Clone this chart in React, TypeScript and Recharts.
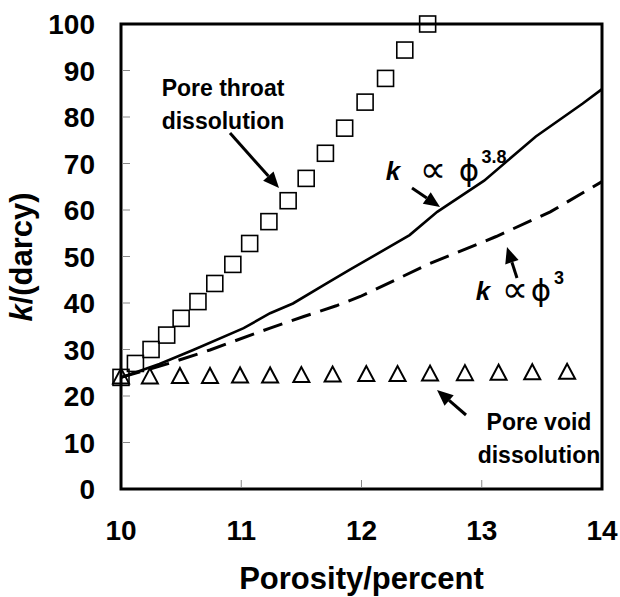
import { ComposedChart, Line, Scatter, XAxis, YAxis } from "recharts";

const W = 620;
const H = 597;
const MARGIN = { top: 24, right: 18, bottom: 0, left: 0 };
const Y_AXIS_W = 121;
const X_AXIS_H = 108;
const PLOT = {
  x: MARGIN.left + Y_AXIS_W,
  y: MARGIN.top,
  w: W - MARGIN.left - Y_AXIS_W - MARGIN.right,
  h: H - MARGIN.top - MARGIN.bottom - X_AXIS_H,
};

const FONT = "'Liberation Sans', Arial, Helvetica, sans-serif";
const SYMBOL_FONT = "'DejaVu Sans', sans-serif";

const xTicks = [10, 11, 12, 13, 14];
const yTicks = [0, 10, 20, 30, 40, 50, 60, 70, 80, 90, 100];

// pore throat dissolution (squares)
const throatPorosity = [10.0, 10.12, 10.25, 10.38, 10.5, 10.64, 10.78, 10.93, 11.07, 11.23, 11.39, 11.54, 11.7, 11.86, 12.03, 12.2, 12.36, 12.55];
const throatK = [24, 27.0, 30.0, 33.1, 36.7, 40.3, 44.2, 48.3, 52.8, 57.5, 62.0, 66.8, 72.2, 77.6, 83.2, 88.3, 94.4, 100];

// pore void dissolution (triangles)
const voidPorosity = [10.0, 10.24, 10.49, 10.74, 10.99, 11.24, 11.5, 11.76, 12.04, 12.3, 12.57, 12.86, 13.14, 13.42, 13.71];
const voidK = [24.0, 24.0, 24.1, 24.1, 24.2, 24.2, 24.3, 24.4, 24.5, 24.5, 24.6, 24.7, 24.8, 24.9, 25.0];

// k ~ phi^3.8 (solid)
const p38Porosity = [10, 10.32, 10.6, 11.02, 11.24, 11.43, 11.71, 11.9, 12.4, 12.63, 13.02, 13.45, 13.84, 14];
const p38K = [24, 26.9, 29.9, 34.6, 37.8, 39.9, 44.2, 47.1, 54.6, 59.6, 66.3, 75.8, 82.9, 86];

// k ~ phi^3 (dashed)
const p3Porosity = [10, 10.41, 10.74, 10.93, 11.24, 11.52, 11.79, 11.99, 12.57, 13.12, 13.57, 14];
const p3K = [24, 27.1, 29.9, 31.7, 34.6, 37.1, 39.4, 41.4, 48.5, 54.3, 59.6, 66.1];

const zip = (xs: number[], ys: number[]) => xs.map((x, i) => ({ x, k: ys[i] }));

const throatData = zip(throatPorosity, throatK);
const voidData = zip(voidPorosity, voidK);
const p38Data = zip(p38Porosity, p38K);
const p3Data = zip(p3Porosity, p3K);

const px = (x: number) => PLOT.x + ((x - 10) / 4) * PLOT.w;
const py = (y: number) => PLOT.y + PLOT.h - (y / 100) * PLOT.h;

function Square(props: any) {
  const { cx, cy } = props;
  return <rect x={cx - 8} y={cy - 8} width={16} height={16} fill="none" stroke="#000" strokeWidth={1.6} />;
}

function Triangle(props: any) {
  const { cx, cy } = props;
  return (
    <polygon
      points={`${cx},${cy - 9} ${cx - 8},${cy + 6} ${cx + 8},${cy + 6}`}
      fill="none"
      stroke="#000"
      strokeWidth={2}
    />
  );
}

function YTick(props: any) {
  const { x, y, payload } = props;
  return (
    <text x={x} y={y} dy="0.36em" textAnchor="end" fontSize={28} fontWeight="bold" fontFamily={FONT} fill="#000">
      {payload.value}
    </text>
  );
}

function XTick(props: any) {
  const { x, y, payload } = props;
  return (
    <text x={x} y={y + 51} textAnchor="middle" fontSize={28} fontWeight="bold" fontFamily={FONT} fill="#000">
      {payload.value}
    </text>
  );
}

function Arrow({ x1, y1, x2, y2 }: { x1: number; y1: number; x2: number; y2: number }) {
  const ang = Math.atan2(y2 - y1, x2 - x1);
  const len = 16;
  const half = 7;
  const bx = x2 - len * Math.cos(ang);
  const by = y2 - len * Math.sin(ang);
  const ox = -Math.sin(ang) * half;
  const oy = Math.cos(ang) * half;
  return (
    <g>
      <line x1={x1} y1={y1} x2={bx} y2={by} stroke="#000" strokeWidth={3} />
      <polygon points={`${x2},${y2} ${bx + ox},${by + oy} ${bx - ox},${by - oy}`} fill="#000" />
    </g>
  );
}

function Overlay() {
  const bold = { fontFamily: FONT, fontWeight: "bold" as const, fill: "#000" };
  return (
    <svg width={W} height={H} style={{ position: "absolute", left: 0, top: 0, pointerEvents: "none" }}>
      {/* frame */}
      <rect x={PLOT.x} y={PLOT.y} width={PLOT.w} height={PLOT.h} fill="none" stroke="#000" strokeWidth={3} />
      {/* inner ticks */}
      {yTicks.slice(1, -1).map((t) => (
        <line key={"y" + t} x1={PLOT.x + 1} x2={PLOT.x + 9} y1={py(t)} y2={py(t)} stroke="#888" strokeWidth={1} />
      ))}
      {xTicks.slice(1, -1).map((t) => (
        <line key={"x" + t} x1={px(t)} x2={px(t)} y1={PLOT.y + PLOT.h - 1} y2={PLOT.y + PLOT.h - 9} stroke="#888" strokeWidth={1} />
      ))}

      {/* axis titles */}
      <text x={PLOT.x + PLOT.w / 2} y={589} textAnchor="middle" fontSize={31} {...bold}>
        Porosity/percent
      </text>
      <text x={32} y={257} transform="rotate(-90, 32, 257)" textAnchor="middle" fontSize={31} {...bold}>
        <tspan fontStyle="italic">k</tspan>/(darcy)
      </text>

      {/* pore throat */}
      <text x={223} y={96} textAnchor="middle" fontSize={23} {...bold}>Pore throat</text>
      <text x={223} y={129} textAnchor="middle" fontSize={23} {...bold}>dissolution</text>
      <Arrow x1={230} y1={133} x2={279} y2={188} />

      {/* k ~ phi^3.8 */}
      <text x={393} y={180} textAnchor="middle" fontSize={26} fontStyle="italic" {...bold}>k</text>
      <text x={433} y={182} textAnchor="middle" fontSize={37} fontFamily={SYMBOL_FONT} fill="#000">∝</text>
      <text x={469} y={181} textAnchor="middle" fontSize={31} fontFamily={SYMBOL_FONT} fill="#000">ϕ</text>
      <text x={494} y={163} textAnchor="middle" fontSize={18} {...bold}>3.8</text>
      <Arrow x1={412} y1={188} x2={440} y2={207} />

      {/* k ~ phi^3 */}
      <text x={483} y={300} textAnchor="middle" fontSize={26} fontStyle="italic" {...bold}>k</text>
      <text x={515} y={302} textAnchor="middle" fontSize={37} fontFamily={SYMBOL_FONT} fill="#000">∝</text>
      <text x={541} y={301} textAnchor="middle" fontSize={31} fontFamily={SYMBOL_FONT} fill="#000">ϕ</text>
      <text x={559} y={284} textAnchor="middle" fontSize={18} {...bold}>3</text>
      <Arrow x1={517} y1={278} x2={507} y2={247} />

      {/* pore void */}
      <text x={539} y={430} textAnchor="middle" fontSize={23} {...bold}>Pore void</text>
      <text x={539} y={463} textAnchor="middle" fontSize={23} {...bold}>dissolution</text>
      <Arrow x1={466} y1={415} x2={437} y2={390} />
    </svg>
  );
}

export default function App() {
  return (
    <div style={{ position: "absolute", left: 0, top: 0, width: W, height: H, background: "#fff" }}>
      <ComposedChart width={W} height={H} margin={MARGIN}>
        <XAxis
          dataKey="x"
          type="number"
          domain={[10, 14]}
          ticks={xTicks}
          height={X_AXIS_H}
          axisLine={false}
          tickLine={false}
          tickSize={0}
          tickMargin={0}
          tick={<XTick />}
        />
        <YAxis
          dataKey="k"
          type="number"
          domain={[0, 100]}
          ticks={yTicks}
          width={Y_AXIS_W}
          axisLine={false}
          tickLine={false}
          tickSize={0}
          tickMargin={26}
          tick={<YTick />}
        />
        <Line data={p3Data} dataKey="k" type="linear" stroke="#000" strokeWidth={3} strokeDasharray="20 10" dot={false} isAnimationActive={false} />
        <Line data={p38Data} dataKey="k" type="linear" stroke="#000" strokeWidth={2.6} dot={false} isAnimationActive={false} />
        <Scatter data={throatData} dataKey="k" shape={<Square />} isAnimationActive={false} />
        <Scatter data={voidData} dataKey="k" shape={<Triangle />} isAnimationActive={false} />
      </ComposedChart>
      <Overlay />
    </div>
  );
}
